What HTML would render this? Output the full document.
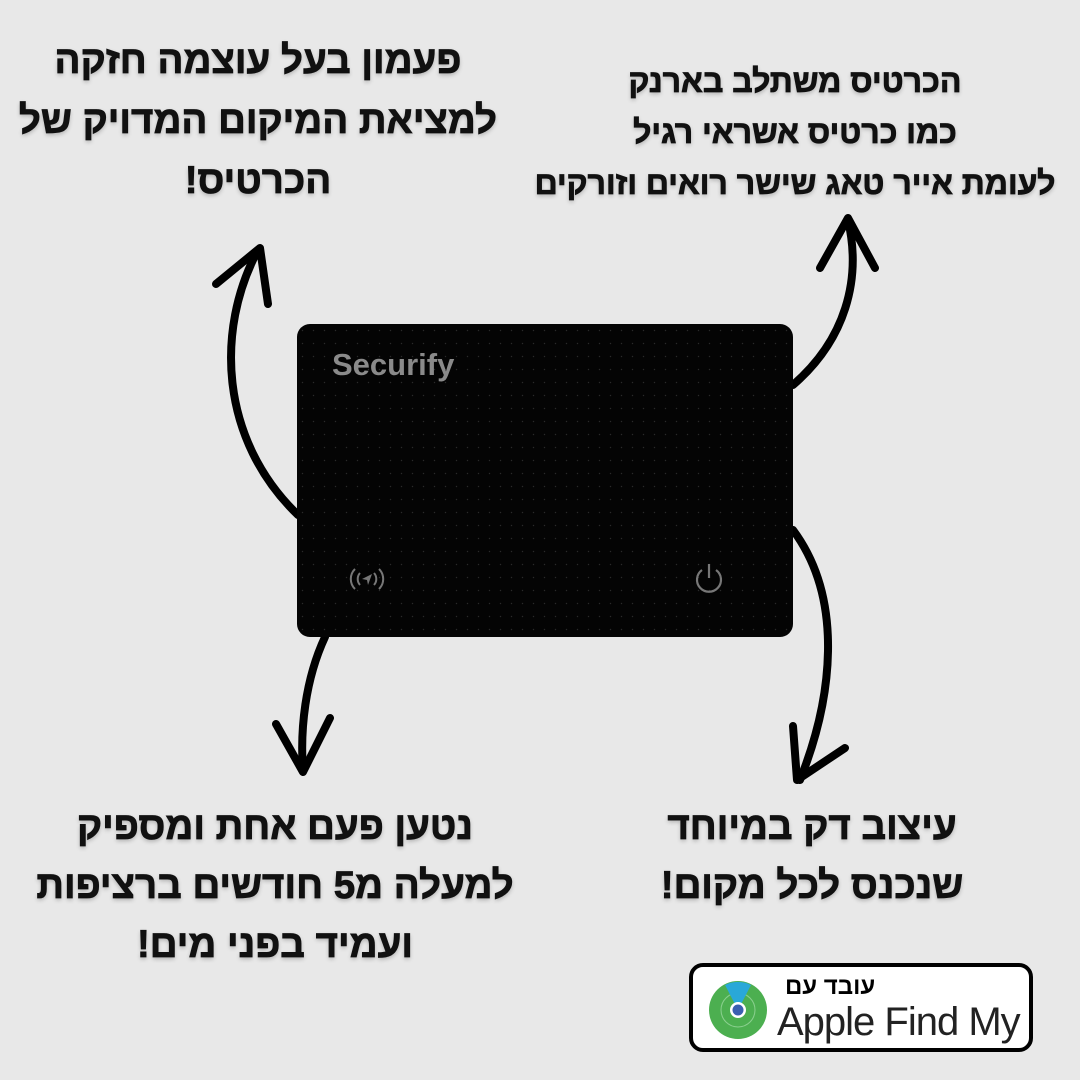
<!DOCTYPE html>
<html><head><meta charset="utf-8"><style>
body{margin:0;width:1080px;height:1080px;background:#e8e8e8;position:relative;overflow:hidden;font-family:"Liberation Sans","Noto Sans CJK SC",sans-serif}
.t{position:absolute;direction:rtl;text-align:center;font-weight:900;color:#111;text-shadow:0 2px 4px rgba(0,0,0,.25);white-space:nowrap;transform:translateX(-50%);-webkit-text-stroke:0.8px #111}
.card{position:absolute;left:297px;top:324px;width:496px;height:313px;background:#040404;border-radius:13px;
background-image:radial-gradient(circle,#2a2a2a 0.5px,transparent 0.9px);background-size:11px 13px}
.badge{position:absolute;left:689px;top:963px;width:344px;height:89px;border:4px solid #000;border-radius:14px;background:#fff;box-sizing:border-box}
</style></head><body>
<div class="t" style="left:258px;top:31px;font-size:38.5px;line-height:60px">פעמון בעל עוצמה חזקה<br>למציאת המיקום המדויק של<br>הכרטיס!</div>
<div class="t" style="left:795px;top:56px;font-size:32px;line-height:51px">הכרטיס משתלב בארנק<br>כמו כרטיס אשראי רגיל<br>לעומת אייר טאג שישר רואים וזורקים</div>
<div class="t" style="left:275px;top:797px;font-size:38.5px;line-height:59px">נטען פעם אחת ומספיק<br>למעלה מ5 חודשים ברציפות<br>ועמיד בפני מים!</div>
<div class="t" style="left:812px;top:797px;font-size:38.5px;line-height:59px">עיצוב דק במיוחד<br>שנכנס לכל מקום!</div>
<svg width="1080" height="1080" style="position:absolute;left:0;top:0" fill="none" stroke="#000" stroke-width="8" stroke-linecap="round" stroke-linejoin="round">
<path d="M298,515 C220,440 215,330 258,250"/><path d="M216,284 L260,248 L268,304"/>
<path d="M793,385 C845,340 862,280 848,220"/><path d="M820,268 L848,218 L875,268"/>
<path d="M325,637 C305,680 300,730 303,770"/><path d="M276,724 L303,772 L330,718"/>
<path d="M793,530 C845,600 832,700 800,780"/><path d="M793,726 L797,780 L845,748"/>
</svg>
<div class="card">
<div style="position:absolute;left:35px;top:23px;color:#8a8a8a;font-weight:bold;font-size:31px">Securify</div>
<svg width="40" height="30" style="position:absolute;left:50px;top:240px" fill="none" stroke="#777" stroke-width="2">
<path d="M8,5 A14,14 0 0 0 8,25"/><path d="M13,9 A9,9 0 0 0 13,21"/><path d="M32,5 A14,14 0 0 1 32,25"/><path d="M27,9 A9,9 0 0 1 27,21"/>
<path d="M25,10 L15,15 L20,16 L21,21 Z" fill="#777" stroke="none"/></svg>
<svg width="40" height="40" style="position:absolute;left:392px;top:236px" fill="none" stroke="#777" stroke-width="2.2">
<path d="M13,10 A12,12 0 1 0 27,10"/><path d="M20,4 L20,18"/></svg>
</div>
<div class="badge">
<svg width="62" height="62" style="position:absolute;left:14px;top:12px">
<circle cx="31" cy="31" r="29" fill="#4caf50"/><circle cx="31" cy="31" r="17" fill="none" stroke="#8bd08f" stroke-width="1"/>
<path d="M31,31 L18,6 A29,29 0 0 1 44,6 Z" fill="#29a8d8"/>
<circle cx="31" cy="31" r="8" fill="#fff"/><circle cx="31" cy="31" r="5.5" fill="#3a5fb0"/></svg>
<div style="position:absolute;left:92px;top:6px;font-weight:bold;font-size:24px;direction:rtl">עובד עם</div>
<div style="position:absolute;left:84px;top:33px;font-size:40px;color:#222;letter-spacing:-1px">Apple Find My</div>
</div>
</body></html>
